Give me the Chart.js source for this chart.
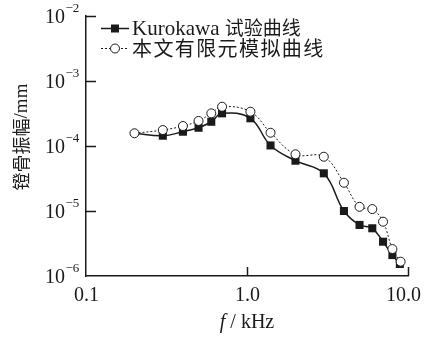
<!DOCTYPE html>
<html>
<head>
<meta charset="utf-8">
<script src="https://cdn.jsdelivr.net/npm/chart.js@4/dist/chart.umd.min.js"></script>
<style>
  html, body { margin: 0; padding: 0; background: #fff; }
  #wrap { width: 428px; height: 338px; }
</style>
</head>
<body>
<div id="wrap"><canvas id="c" width="428" height="338"></canvas></div>
<script>
// Stapes displacement amplitude vs. frequency (log-log)
const seriesNames = ['Kurokawa 试验曲线', '本文有限元模拟曲线'];

// Kurokawa measurement (filled squares, solid line); first point only anchors the line
const freqExp = [0.2, 0.3, 0.4, 0.5, 0.6, 0.7, 1.05, 1.4, 2.0, 3.0, 4.0, 5.0, 6.0, 7.0, 8.0, 8.9];
const ampExp  = [1.57e-4, 1.44e-4, 1.66e-4, 1.91e-4, 2.36e-4, 3.18e-4, 2.67e-4, 1.02e-4, 5.94e-5, 3.80e-5, 1.0e-5, 6.1e-6, 5.42e-6, 3.37e-6, 2.10e-6, 1.53e-6];

// Finite element simulation (open circles, dotted line)
const freqSim = [0.2, 0.3, 0.4, 0.5, 0.6, 0.7, 1.05, 1.4, 2.0, 3.0, 4.0, 5.0, 6.0, 7.0, 8.0, 9.0];
const ampSim  = [1.57e-4, 1.76e-4, 2.03e-4, 2.43e-4, 3.18e-4, 4.02e-4, 3.37e-4, 1.60e-4, 7.45e-5, 6.84e-5, 2.72e-5, 1.16e-5, 1.07e-5, 6.85e-6, 2.60e-6, 1.66e-6];

// Axis ticks
const xTickValues = [0.1, 1, 10];
const xTickLabels = ['0.1', '1.0', '10.0'];
const yTickValues = [1e-2, 1e-3, 1e-4, 1e-5, 1e-6];
const yTickExponents = ['\u22122', '\u22123', '\u22124', '\u22125', '\u22126'];

const xTitleItalic = 'f';
const xTitleRest = ' / kHz';
const yTitleCJK = '镫骨振幅';
const yTitleUnit = '/mm';

const SERIF = '"Liberation Serif", "DejaVu Serif", serif';
const CJK = '"Noto Sans CJK SC", sans-serif';
const INK = '#1a1a1a';

function pts(xs, ys) { return xs.map((x, i) => ({ x: x, y: ys[i] })); }

const expRadius = freqExp.map((_, i) => i === 0 ? 0 : 5.7);

// Draws tick labels with superscripts, inward tick marks, axis titles and legend
const decorations = {
  id: 'decorations',
  afterDraw(chart) {
    const ctx = chart.ctx;
    const xs = chart.scales.x, ys = chart.scales.y;
    const left = chart.chartArea.left, bottom = chart.chartArea.bottom;
    ctx.save();
    ctx.strokeStyle = INK;
    ctx.fillStyle = INK;
    ctx.lineWidth = 1.5;

    // y ticks: inward marks and 10^n labels
    yTickValues.forEach((v, i) => {
      const py = Math.round(ys.getPixelForValue(v)) + 0.5;
      if (i < yTickValues.length - 1) {
        ctx.beginPath(); ctx.moveTo(left, py); ctx.lineTo(left + 10, py); ctx.stroke();
      }
      ctx.font = '20px ' + SERIF;
      ctx.textAlign = 'right';
      ctx.textBaseline = 'middle';
      ctx.fillText('10', 65, py + 1);
      ctx.font = '13px ' + SERIF;
      ctx.textAlign = 'left';
      ctx.fillText(yTickExponents[i], 65.5, py - 8);
    });

    // x ticks: inward marks and labels
    xTickValues.forEach((v, i) => {
      const px = Math.round(xs.getPixelForValue(v)) + 0.5;
      if (i > 0) {
        ctx.beginPath(); ctx.moveTo(px, bottom); ctx.lineTo(px, bottom - 9); ctx.stroke();
      }
      ctx.font = '20px ' + SERIF;
      ctx.textAlign = 'center';
      ctx.textBaseline = 'middle';
      const off = i === 2 ? -5 : 0;
      ctx.fillText(xTickLabels[i], px + off, 296);
    });

    // x axis title with italic f
    ctx.textBaseline = 'middle';
    ctx.textAlign = 'left';
    ctx.font = 'italic 20px ' + SERIF;
    const w1 = ctx.measureText(xTitleItalic).width;
    ctx.font = '20px ' + SERIF;
    const w2 = ctx.measureText(xTitleRest).width;
    let tx = 247 - (w1 + w2) / 2;
    ctx.font = 'italic 20px ' + SERIF;
    ctx.fillText(xTitleItalic, tx, 323);
    ctx.font = '20px ' + SERIF;
    ctx.fillText(xTitleRest, tx + w1, 323);

    // y axis title, rotated
    ctx.save();
    ctx.translate(21, 137);
    ctx.rotate(-Math.PI / 2);
    ctx.font = '18px ' + CJK;
    const c1 = ctx.measureText(yTitleCJK).width;
    ctx.font = '19px ' + SERIF;
    const c2 = ctx.measureText(yTitleUnit).width;
    let ty = -(c1 + c2) / 2;
    ctx.font = '18px ' + CJK;
    ctx.fillText(yTitleCJK, ty, 0);
    ctx.font = '19px ' + SERIF;
    ctx.fillText(yTitleUnit, ty + c1, 1);
    ctx.restore();

    // legend
    const rows = [
      { y: 28, dash: [], square: true, cjk: 19, spacing: 0 },
      { y: 48, dash: [2, 2], square: false, cjk: 20, spacing: 1.4 }
    ];
    rows.forEach((r, i) => {
      ctx.save();
      ctx.lineWidth = r.square ? 1.5 : 1;
      ctx.setLineDash(r.dash);
      ctx.beginPath(); ctx.moveTo(101, r.y + 0.5); ctx.lineTo(129, r.y + 0.5); ctx.stroke();
      ctx.setLineDash([]);
      if (r.square) {
        ctx.fillRect(111, r.y - 3.5, 8, 8);
      } else {
        ctx.beginPath(); ctx.arc(115, r.y + 0.5, 4.5, 0, Math.PI * 2);
        ctx.fillStyle = '#fff'; ctx.fill(); ctx.lineWidth = 1; ctx.stroke();
      }
      ctx.restore();
      ctx.save();
      ctx.fillStyle = INK;
      ctx.textAlign = 'left';
      ctx.textBaseline = 'middle';
      let lx = 132;
      const name = seriesNames[i];
      const m = name.match(/^([A-Za-z ]*)(.*)$/);
      if (m[1]) {
        ctx.font = '21px ' + SERIF;
        ctx.fillText(m[1], lx, r.y + 1);
        lx += ctx.measureText(m[1]).width;
      }
      ctx.font = r.cjk + 'px ' + CJK;
      if ('letterSpacing' in ctx) ctx.letterSpacing = r.spacing + 'px';
      ctx.fillText(m[2], lx, r.y);
      ctx.restore();
    });

    ctx.restore();
  }
};

new Chart(document.getElementById('c'), {
  type: 'line',
  data: {
    datasets: [
      {
        label: seriesNames[0],
        data: pts(freqExp, ampExp),
        borderColor: INK,
        borderWidth: 1.5,
        backgroundColor: INK,
        pointStyle: 'rect',
        pointRadius: expRadius,
        pointBorderWidth: 0,
        tension: 0.4,
        order: 1,
        clip: false
      },
      {
        label: seriesNames[1],
        data: pts(freqSim, ampSim),
        borderColor: INK,
        borderWidth: 1,
        borderDash: [2, 2],
        backgroundColor: '#fff',
        pointStyle: 'circle',
        pointRadius: 4.5,
        pointBorderWidth: 1,
        pointBorderColor: INK,
        tension: 0.4,
        order: 0,
        clip: false
      }
    ]
  },
  options: {
    responsive: false,
    animation: false,
    devicePixelRatio: 1,
    layout: { padding: { left: 0, top: 16, right: 20, bottom: 0 } },
    plugins: { legend: { display: false }, tooltip: { enabled: false } },
    scales: {
      x: {
        type: 'logarithmic', min: 0.1, max: 10,
        grid: { display: false },
        border: { display: true, color: INK, width: 1.5 },
        ticks: { display: false },
        afterFit(s) { s.height = 62; }
      },
      y: {
        type: 'logarithmic', min: 1e-6, max: 1e-2,
        grid: { display: false },
        border: { display: true, color: INK, width: 1.5 },
        ticks: { display: false },
        afterFit(s) { s.width = 86; }
      }
    }
  },
  plugins: [decorations]
});
</script>
</body>
</html>
